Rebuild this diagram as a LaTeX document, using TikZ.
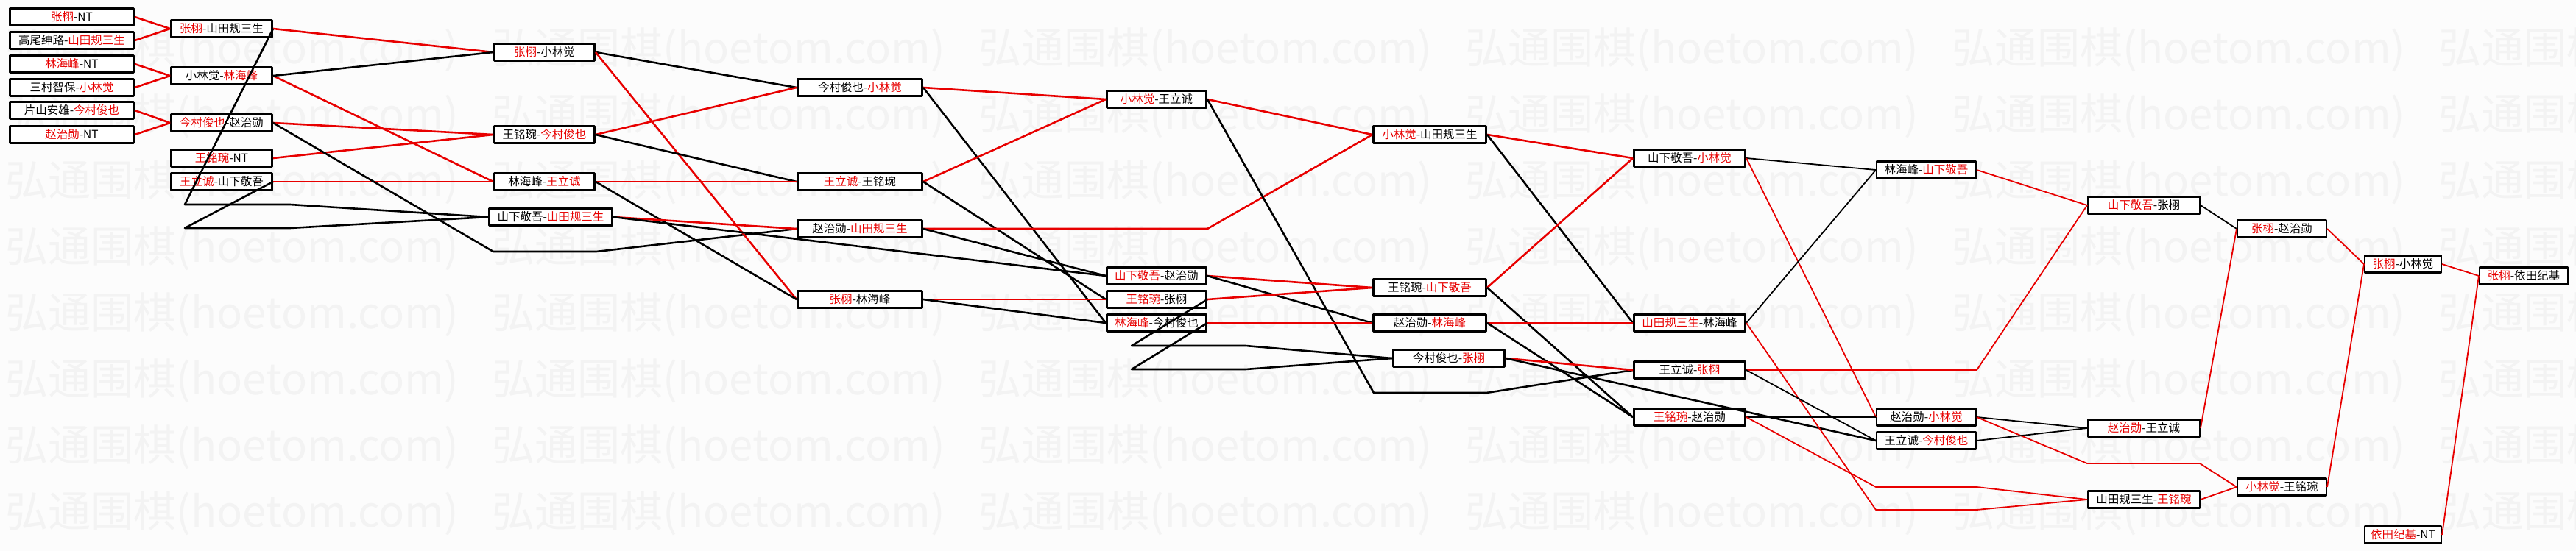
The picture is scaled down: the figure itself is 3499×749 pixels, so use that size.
\documentclass[tikz,border=0pt]{standalone}
\usepackage{fontspec}
\setmainfont{Noto Sans CJK SC}
\newfontfamily\wmfont{Noto Sans CJK SC}
\definecolor{thangred}{RGB}{232,0,0}
\definecolor{nenxam}{RGB}{252,252,252}
\definecolor{chimo}{RGB}{243,243,243}
\newcommand{\thang}[1]{\textcolor{thangred}{#1}}

\begin{document}
\begin{tikzpicture}[x=1pt, y=-1pt, line join=round,
        box/.style={draw, fill=white, line width=3pt, minimum height=22.5pt, inner sep=0pt, font=\fontsize{15.5}{16}\selectfont},
        boxthin/.style={box, line width=2.2pt, minimum height=23pt},
        col0/.style={box, minimum width=168pt},
        col1/.style={box, minimum width=137pt},
        col2/.style={box, minimum width=136pt},
        col3/.style={box, minimum width=169pt},
        col4/.style={box, minimum width=135pt},
        col5/.style={box, minimum width=153pt},
        col6/.style={box, minimum width=151pt},
        col7/.style={boxthin, minimum width=134.8pt},
        col8/.style={boxthin, minimum width=151.8pt},
        col9/.style={boxthin, minimum width=120.8pt},
        col10/.style={boxthin, minimum width=103.8pt},
        col11/.style={boxthin, minimum width=119.8pt},
        winline/.style={draw=thangred, line width=2.6pt},
        loseline/.style={draw=black, line width=2.6pt},
        winthin/.style={winline, line width=1.8pt},
        losethin/.style={loseline, line width=1.8pt}]
        % Nền và chữ chìm
        \fill[nenxam] (0,0) rectangle (3499,749);
        \useasboundingbox (0,0) rectangle (3499,749);
        \foreach \r in {0,...,7}
          \foreach \k in {0,...,5}
            \node[anchor=west, inner sep=0pt, text=chimo, font=\wmfont\fontsize{58}{58}\selectfont] at (7.7+661*\k, 68+90*\r) {弘通围棋(hoetom.com)};

        % Vòng 1
        \node[col0] (v1a) at (97.5,23) {\thang{张栩}-NT};
        \node[col0] (v1b) at (97.5,55) {高尾绅路-\thang{山田规三生}};
        \node[col0] (v1c) at (97.5,87) {\thang{林海峰}-NT};
        \node[col0] (v1d) at (97.5,119) {三村智保-\thang{小林觉}};
        \node[col0] (v1e) at (97.5,150) {片山安雄-\thang{今村俊也}};
        \node[col0] (v1f) at (97.5,183) {\thang{赵治勋}-NT};
        % Vòng 2
        \node[col1] (v2a) at (301,39) {\thang{张栩}-山田规三生};
        \node[col1] (v2b) at (301,103) {小林觉-\thang{林海峰}};
        \node[col1] (v2c) at (301,167) {\thang{今村俊也}-赵治勋};
        \node[col1] (v2d) at (301,215) {\thang{王铭琬}-NT};
        \node[col1] (v2e) at (301,247) {\thang{王立诚}-山下敬吾};
        % Vòng 3
        \node[col2] (v3a) at (739.5,71) {\thang{张栩}-小林觉};
        \node[col2] (v3b) at (739.5,183) {王铭琬-\thang{今村俊也}};
        \node[col2] (v3c) at (739.5,247) {林海峰-\thang{王立诚}};
        \node[col2, minimum width=167pt] (v3d) at (748,295) {山下敬吾-\thang{山田规三生}};
        % Vòng 4
        \node[col3] (v4a) at (1168,119) {今村俊也-\thang{小林觉}};
        \node[col3] (v4b) at (1168,247) {\thang{王立诚}-王铭琬};
        \node[col3] (v4c) at (1168,311) {赵治勋-\thang{山田规三生}};
        \node[col3] (v4d) at (1168,407) {\thang{张栩}-林海峰};
        % Vòng 5
        \node[col4] (v5a) at (1571,135) {\thang{小林觉}-王立诚};
        \node[col4] (v5b) at (1571,375) {\thang{山下敬吾}-赵治勋};
        \node[col4] (v5c) at (1571,407) {\thang{王铭琬}-张栩};
        \node[col4] (v5d) at (1571,439) {\thang{林海峰}-今村俊也};
        % Vòng 6
        \node[col5] (v6a) at (1942,183) {\thang{小林觉}-山田规三生};
        \node[col5] (v6b) at (1942,391) {王铭琬-\thang{山下敬吾}};
        \node[col5] (v6c) at (1942,439) {赵治勋-\thang{林海峰}};
        \node[col5, minimum width=151pt] (v6d) at (1968,487) {今村俊也-\thang{张栩}};
        % Vòng 7
        \node[col6] (v7a) at (2295,215) {山下敬吾-\thang{小林觉}};
        \node[col6] (v7b) at (2295,439) {\thang{山田规三生}-林海峰};
        \node[col6] (v7c) at (2295,503) {王立诚-\thang{张栩}};
        \node[col6] (v7d) at (2295,567) {\thang{王铭琬}-赵治勋};
        % Vòng 8
        \node[col7] (v8a) at (2616.5,231) {林海峰-\thang{山下敬吾}};
        \node[col7] (v8b) at (2616.5,567) {赵治勋-\thang{小林觉}};
        \node[col7] (v8c) at (2616.5,599) {王立诚-\thang{今村俊也}};
        % Vòng 9
        \node[col8] (v9a) at (2912,279) {\thang{山下敬吾}-张栩};
        \node[col8] (v9b) at (2912,582) {\thang{赵治勋}-王立诚};
        \node[col8] (v9c) at (2912,679) {山田规三生-\thang{王铭琬}};
        % Vòng 10
        \node[col9] (v10a) at (3099.5,311) {\thang{张栩}-赵治勋};
        \node[col9] (v10b) at (3099.5,662) {\thang{小林觉}-王铭琬};
        % Vòng 11
        \node[col10] (v11a) at (3264,359) {\thang{张栩}-小林觉};
        \node[col10] (v11b) at (3264,727) {\thang{依田纪基}-NT};
        % Chung kết
        \node[col11] (v12) at (3428,375) {\thang{张栩}-依田纪基};

        % Đường thắng / thua vòng 1-2
        \draw[winline] (v1a.east) -- (v2a.west);
        \draw[winline] (v1b.east) -- (v2a.west);
        \draw[winline] (v1c.east) -- (v2b.west);
        \draw[winline] (v1d.east) -- (v2b.west);
        \draw[winline] (v1e.east) -- (v2c.west);
        \draw[winline] (v1f.east) -- (v2c.west);
        \draw[winline] (v2a.east) -- (v3a.west);
        \draw[winline] (v2b.east) -- (v3c.west);
        \draw[winline] (v2c.east) -- (v3b.west);
        \draw[winline] (v2d.east) -- (v3b.west);
        \draw[winline] (v2e.east) -- (v3c.west);
        \draw[loseline] (v2a.east) -- (251,278) -- (394,278) -- (v3d.west);
        \draw[loseline] (v2b.east) -- (v3a.west);
        \draw[loseline] (v2c.east) -- (670,342) -- (810,342) -- (v4c.west);
        \draw[loseline] (v2e.east) -- (251,310) -- (394,310) -- (v3d.west);
        % Vòng 3-4
        \draw[loseline] (v3a.east) -- (v4a.west);
        \draw[winline] (v3a.east) -- (v4d.west);
        \draw[winline] (v3b.east) -- (v4a.west);
        \draw[loseline] (v3b.east) -- (v4b.west);
        \draw[winline] (v3c.east) -- (v4b.west);
        \draw[loseline] (v3c.east) -- (v4d.west);
        \draw[winline] (v3d.east) -- (v4c.west);
        \draw[loseline] (v3d.east) -- (v5b.west);
        \draw[winline] (v4a.east) -- (v5a.west);
        \draw[loseline] (v4a.east) -- (v5d.west);
        \draw[winline] (v4b.east) -- (v5a.west);
        \draw[loseline] (v4b.east) -- (v5c.west);
        \draw[winline] (v4c.east) -- (1640,311) -- (v6a.west);
        \draw[loseline] (v4c.east) -- (v5b.west);
        \draw[winline] (v4d.east) -- (v5c.west);
        \draw[loseline] (v4d.east) -- (v5d.west);
        % Vòng 5-6
        \draw[winline] (v5a.east) -- (v6a.west);
        \draw[loseline] (v5a.east) -- (1866,534) -- (2019,534) -- (v7c.west);
        \draw[winline] (v5b.east) -- (v6b.west);
        \draw[loseline] (v5b.east) -- (v6c.west);
        \draw[winline] (v5c.east) -- (v6b.west);
        \draw[loseline] (v5c.east) -- (1537,470) -- (1692,470) -- (v6d.west);
        \draw[winline] (v5d.east) -- (v6c.west);
        \draw[loseline] (v5d.east) -- (1537,502) -- (1692,502) -- (v6d.west);
        \draw[winline] (v6a.east) -- (v7a.west);
        \draw[loseline] (v6a.east) -- (v7b.west);
        \draw[winline] (v6b.east) -- (v7a.west);
        \draw[loseline] (v6b.east) -- (v7d.west);
        \draw[winline] (v6c.east) -- (v7b.west);
        \draw[loseline] (v6c.east) -- (v7d.west);
        \draw[winline] (v6d.east) -- (v7c.west);
        \draw[loseline] (v6d.east) -- (v8c.west);
        % Vòng 7 trở đi
        \draw[losethin] (v7a.east) -- (v8a.west);
        \draw[winthin] (v7a.east) -- (v8b.west);
        \draw[losethin] (v7b.east) -- (v8a.west);
        \draw[winthin] (v7b.east) -- (2548,693) -- (2685,693) -- (v9c.west);
        \draw[winthin] (v7c.east) -- (2685,503) -- (v9a.west);
        \draw[losethin] (v7c.east) -- (v8c.west);
        \draw[losethin] (v7d.east) -- (v8b.west);
        \draw[winthin] (v7d.east) -- (2548,662) -- (2685,662) -- (v9c.west);
        \draw[winthin] (v8a.east) -- (v9a.west);
        \draw[losethin] (v8b.east) -- (v9b.west);
        \draw[winthin] (v8b.east) -- (2835,630) -- (2988,630) -- (v10b.west);
        \draw[losethin] (v8c.east) -- (v9b.west);
        \draw[losethin] (v9a.east) -- (v10a.west);
        \draw[winthin] (v9b.east) -- (v10a.west);
        \draw[winthin] (v9c.east) -- (v10b.west);
        \draw[winthin] (v10a.east) -- (v11a.west);
        \draw[winthin] (v10b.east) -- (v11a.west);
        \draw[winthin] (v11a.east) -- (v12.west);
        \draw[winthin] (v11b.east) -- (v12.west);
\end{tikzpicture}
\end{document}
